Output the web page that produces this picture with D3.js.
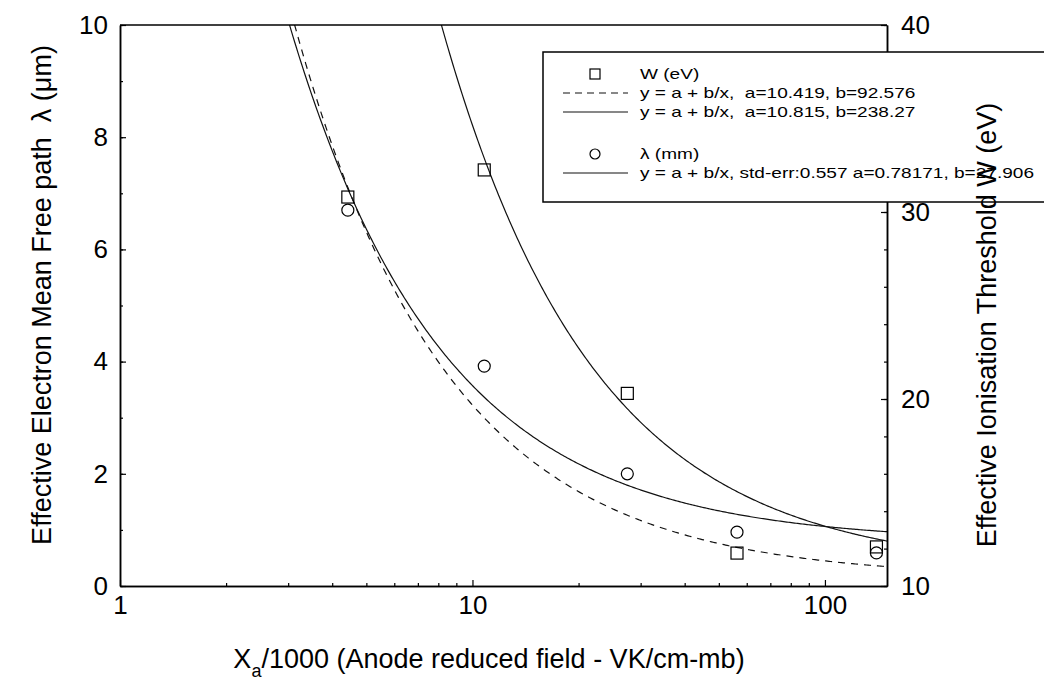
<!DOCTYPE html>
<html><head><meta charset="utf-8">
<script src="https://cdn.jsdelivr.net/npm/d3@7"></script>
<style>
html,body{margin:0;padding:0;background:#fff;}
svg text{font-family:"Liberation Sans",Arial,sans-serif;fill:#000;white-space:pre;}
</style></head>
<body><svg id="c" width="1044" height="694"></svg>
<script>
// ---- data ----
const xField = [4.43, 10.8, 27.5, 56.3, 140];          // Xa/1000
const wValues = [30.8, 32.25, 20.3, 11.76, 12.09];      // W (eV), squares, right axis
const lambdaValues = [6.7, 3.92, 2.0, 0.96, 0.59];      // λ, circles, left axis
// fit coefficients printed in the legend: y = a + b/x
const fitNames = ["W dashed", "W solid", "lambda solid"];
const fitA = [10.419, 10.815, 0.78171];
const fitB = [92.576, 238.27, 27.906];
const xTicks = [1, 10, 100];
const leftTicks = [0, 2, 4, 6, 8, 10];
const rightTicks = [10, 20, 30, 40];
const legendLabels = ["W (eV)", "y = a + b/x,  a=10.419, b=92.576", "y = a + b/x,  a=10.815, b=238.27",
                      "λ (mm)", "y = a + b/x, std-err:0.557 a=0.78171, b=27.906"];

const svg = d3.select("#c");
const L = 120, R = 887, T = 25, B = 586;
const x = d3.scaleLog().domain([1, 150]).range([L, R]);
const yL = d3.scaleLinear().domain([0, 10]).range([B, T]);
const yR = d3.scaleLinear().domain([10, 40]).range([B, T]);

svg.append("clipPath").attr("id", "clip").append("rect")
  .attr("x", L).attr("y", T).attr("width", R - L).attr("height", B - T);

// fit curves
const xs = d3.range(0, 401).map(i => Math.pow(10, Math.log10(2.5) + i / 400 * (Math.log10(150) - Math.log10(2.5))));
const scalesForFit = [yR, yR, yL];
const dashes = ["7,6", null, null];
const g = svg.append("g").attr("clip-path", "url(#clip)");
fitA.forEach((a, k) => {
  const b = fitB[k], ys = scalesForFit[k];
  const line = d3.line().x(d => x(d)).y(d => ys(a + b / d));
  g.append("path").attr("d", line(xs)).attr("fill", "none").attr("stroke", "#111")
    .attr("stroke-width", 1.2).attr("stroke-dasharray", dashes[k]);
});

// markers
svg.append("g").selectAll("rect").data(xField).join("rect")
  .attr("x", (d) => x(d) - 6).attr("y", (d, i) => yR(wValues[i]) - 6)
  .attr("width", 12).attr("height", 12).attr("fill", "none").attr("stroke", "#000").attr("stroke-width", 1.2);
svg.append("g").selectAll("circle").data(xField).join("circle")
  .attr("cx", d => x(d)).attr("cy", (d, i) => yL(lambdaValues[i])).attr("r", 6)
  .attr("fill", "none").attr("stroke", "#000").attr("stroke-width", 1.2);

// axes
function styleAxis(sel) {
  sel.selectAll(".domain").attr("stroke", "#000").attr("stroke-width", 1.5);
  sel.selectAll(".tick line").attr("stroke", "#000").attr("stroke-width", 1.2);
  sel.selectAll(".tick text").style("font-size", "26px").attr("fill", "#000");
  sel.attr("font-family", null);
}
const minorX = [];
[1, 10, 100].forEach(d => { for (let m = 2; m <= 9; m++) { const v = d * m; if (v < 150) minorX.push(v); } });
svg.append("g").attr("transform", `translate(0,${B})`)
  .call(d3.axisBottom(x).tickValues(minorX).tickFormat("").tickSizeInner(-3).tickSizeOuter(0)).call(styleAxis);
svg.append("g").attr("transform", `translate(0,${B})`)
  .call(d3.axisBottom(x).tickValues(xTicks).tickFormat(d3.format("d")).tickSizeInner(-6).tickSizeOuter(0).tickPadding(10))
  .call(styleAxis);

svg.append("g").attr("transform", `translate(${L},0)`)
  .call(d3.axisLeft(yL).tickValues(d3.range(0, 11, 1)).tickFormat("").tickSizeInner(-3).tickSizeOuter(0)).call(styleAxis);
svg.append("g").attr("transform", `translate(${L},0)`)
  .call(d3.axisLeft(yL).tickValues(leftTicks).tickSizeInner(-6).tickSizeOuter(0).tickPadding(12)).call(styleAxis);

svg.append("g").attr("transform", `translate(${R},0)`)
  .call(d3.axisRight(yR).tickValues(d3.range(10, 41, 2)).tickFormat("").tickSizeInner(-3).tickSizeOuter(0)).call(styleAxis);
svg.append("g").attr("transform", `translate(${R},0)`)
  .call(d3.axisRight(yR).tickValues(rightTicks).tickSizeInner(-6).tickSizeOuter(0).tickPadding(14)).call(styleAxis);

svg.append("line").attr("x1", L).attr("x2", R).attr("y1", T).attr("y2", T).attr("stroke", "#000").attr("stroke-width", 1.5);

// legend
const lg = svg.append("g");
lg.append("rect").attr("x", 543).attr("y", 52).attr("width", 540).attr("height", 150)
  .attr("fill", "#fff").attr("stroke", "#000").attr("stroke-width", 1.5);
const rowY = [74, 93, 112, 154, 173];
const tx = 640;
lg.append("rect").attr("x", 590).attr("y", rowY[0] - 5).attr("width", 10).attr("height", 10)
  .attr("fill", "none").attr("stroke", "#000").attr("stroke-width", 1.2);
lg.append("circle").attr("cx", 595).attr("cy", rowY[3]).attr("r", 5)
  .attr("fill", "none").attr("stroke", "#000").attr("stroke-width", 1.2);
[[1, "7,5"], [2, null], [4, null]].forEach(([r, da]) => {
  lg.append("line").attr("x1", 563).attr("x2", 628).attr("y1", rowY[r]).attr("y2", rowY[r])
    .attr("stroke", "#111").attr("stroke-width", 1.2).attr("stroke-dasharray", da);
});
legendLabels.forEach((t, i) => {
  const el = lg.append("text").attr("x", tx).attr("y", rowY[i]).attr("dy", "0.35em").style("font-size", "15px").text(t);
  const w = el.node().getComputedTextLength();
  el.attr("textLength", w * 1.27).attr("lengthAdjust", "spacingAndGlyphs");
});

// titles
svg.append("text").attr("transform", "translate(51,295) rotate(-90)").attr("text-anchor", "middle")
  .style("font-size", "27px").text("Effective Electron Mean Free path  λ (μm)");
svg.append("text").attr("transform", "translate(996,325) rotate(-90)").attr("text-anchor", "middle")
  .style("font-size", "27px").text("Effective Ionisation Threshold W (eV)");
const xt = svg.append("text").attr("x", 489).attr("y", 668).attr("text-anchor", "middle").style("font-size", "27px");
xt.append("tspan").text("X");
xt.append("tspan").attr("dy", 9).style("font-size", "18px").text("a");
xt.append("tspan").attr("dy", -9).text("/1000 (Anode reduced field - VK/cm-mb)");
</script></body></html>
